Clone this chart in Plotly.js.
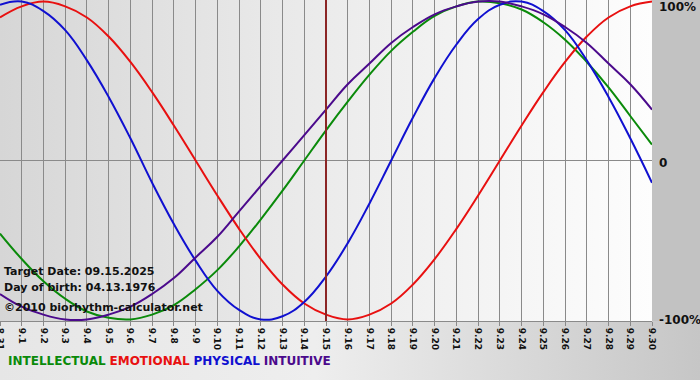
<!DOCTYPE html>
<html>
<head>
<meta charset="utf-8">
<script src="https://cdn.plot.ly/plotly-3.0.1.min.js"></script>
<style>
  html, body { margin: 0; padding: 0; width: 700px; height: 380px; overflow: hidden; }
  body { background: linear-gradient(to right, #e6e6e6 0%, #eeeeee 45%, #c6c6c6 100%); position: relative; }
  #plotbg { position: absolute; left: 0; top: 0; width: 652px; height: 321px;
            background: linear-gradient(to right, #d6d6d6 0%, #e8e8e8 40%, #fdfdfd 100%); }
  #rightbg { position: absolute; left: 652px; top: 0; width: 48px; height: 321px; background: #c2c2c2; }
  #chart { position: absolute; left: 0; top: 0; width: 700px; height: 380px; }
</style>
</head>
<body>
<div id="plotbg"></div>
<div id="rightbg"></div>
<div id="chart"></div>
<script>
// Day labels (8.31 .. 9.30)
const days = ["8.31","9.1","9.2","9.3","9.4","9.5","9.6","9.7","9.8","9.9","9.10",
  "9.11","9.12","9.13","9.14","9.15","9.16","9.17","9.18","9.19","9.20",
  "9.21","9.22","9.23","9.24","9.25","9.26","9.27","9.28","9.29","9.30"];

const intellectual = [-0.46,-0.62,-0.76,-0.87,-0.95,-0.99,-1.00,-0.97,-0.91,-0.81,-0.69,
  -0.54,-0.37,-0.19,0.00,0.19,0.37,0.54,0.69,0.81,0.91,
  0.97,1.00,0.99,0.95,0.87,0.76,0.62,0.46,0.28,0.10];
const emotional = [0.90,0.97,1.00,0.97,0.90,0.78,0.62,0.43,0.22,0.00,-0.22,
  -0.43,-0.62,-0.78,-0.90,-0.97,-1.00,-0.97,-0.90,-0.78,-0.62,
  -0.43,-0.22,0.00,0.22,0.43,0.62,0.78,0.90,0.97,1.00];
const physical = [0.98,1.00,0.94,0.82,0.63,0.40,0.14,-0.14,-0.40,-0.63,-0.82,
  -0.94,-1.00,-0.98,-0.89,-0.73,-0.52,-0.27,0.00,0.27,0.52,
  0.73,0.89,0.98,1.00,0.94,0.82,0.63,0.40,0.14,-0.14];
const intuitive = [-0.84,-0.92,-0.97,-1.00,-1.00,-0.97,-0.92,-0.84,-0.74,-0.61,-0.48,
  -0.32,-0.16,0.00,0.16,0.32,0.48,0.61,0.74,0.84,0.92,
  0.97,1.00,1.00,0.97,0.92,0.84,0.74,0.61,0.48,0.32];

const seriesNames = ["INTELLECTUAL","EMOTIONAL","PHYSICAL","INTUITIVE"];
const seriesColors = ["#0a8a0a","#e81010","#1010d0","#4b0a8c"];
const seriesData = [intellectual, emotional, physical, intuitive];

const yTickVals = [1, 0, -1];
const yTickText = ["100%", "0", "-100%"];
const yTickShift = [-5, -2, -1];

const targetDay = "9.15";
const infoLines = ["Target Date: 09.15.2025", "Day of birth: 04.13.1976", "©2010 biorhythm-calculator.net"];

const traces = seriesData.map((vals, i) => ({
  x: days, y: vals, type: "scatter", mode: "lines", name: seriesNames[i],
  line: { color: seriesColors[i], width: 2, shape: "spline", smoothing: 1.2 },
  hoverinfo: "skip"
}));

const annotations = [];
yTickVals.forEach((v, i) => annotations.push({
  xref: "paper", yref: "y", x: 1, y: v, xanchor: "left", yanchor: "middle",
  xshift: 5, yshift: yTickShift[i], text: yTickText[i], showarrow: false,
  font: { family: "DejaVu Sans", size: 12, color: "#111", weight: "bold" }
}));
const infoY = [271, 287, 307];
infoLines.forEach((t, i) => annotations.push({
  xref: "paper", yref: "paper", x: 0, y: 1 - infoY[i] / 321, xanchor: "left", yanchor: "middle",
  xshift: 2, text: "<b>" + t + "</b>", showarrow: false,
  font: { family: "DejaVu Sans", size: 11, color: "#111" }
}));
annotations.push({
  xref: "paper", yref: "paper", x: 0, y: -(361 - 321) / 321, xanchor: "left", yanchor: "middle",
  xshift: 6, showarrow: false,
  text: seriesNames.map((n, i) => '<span style="color:' + seriesColors[i] + '"><b>' + n + '</b></span>').join(" "),
  font: { family: "DejaVu Sans", size: 12 }
});

const targetIdx = days.indexOf(targetDay);

const layout = {
  width: 700, height: 380,
  margin: { l: 0, r: 48, t: 0, b: 59, pad: 0 },
  paper_bgcolor: "rgba(0,0,0,0)", plot_bgcolor: "rgba(0,0,0,0)",
  showlegend: false,
  xaxis: {
    type: "category", categoryorder: "array", categoryarray: days,
    range: [0, days.length - 1], tickmode: "linear", tick0: 0, dtick: 1,
    tickangle: 90, showgrid: true, gridcolor: "#8a8a8a", gridwidth: 1,
    showline: true, linecolor: "#8a8a8a", linewidth: 1,
    ticks: "outside", ticklen: 4, tickcolor: "#8a8a8a",
    tickfont: { family: "DejaVu Sans", size: 9, color: "#111", weight: "bold" },
    fixedrange: true, zeroline: false
  },
  yaxis: {
    range: [-1.01, 1.01], showgrid: false, showticklabels: false, ticks: "",
    zeroline: true, zerolinecolor: "#8a8a8a", zerolinewidth: 1, fixedrange: true
  },
  shapes: [{
    type: "line", xref: "x", yref: "paper", x0: targetIdx, x1: targetIdx, y0: 0, y1: 1,
    line: { color: "#8b2525", width: 2 }, layer: "above"
  }],
  annotations: annotations
};

Plotly.newPlot("chart", traces, layout, { displayModeBar: false, staticPlot: true });
</script>
</body>
</html>
